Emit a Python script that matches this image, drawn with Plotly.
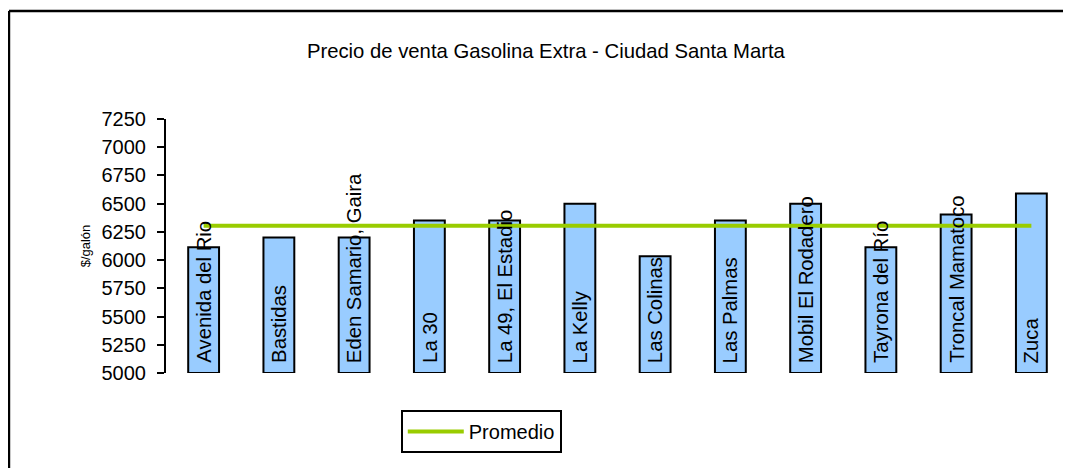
import plotly.graph_objects as go

# Estaciones y precios ($/galón)
estaciones = ['Avenida del Rio', 'Bastidas', 'Eden Samario, Gaira', 'La 30',
              'La 49, El Estadio', 'La Kelly', 'Las Colinas', 'Las Palmas',
              'Mobil El Rodadero', 'Tayrona del Río', 'Troncal Mamatoco', 'Zuca']
precios = [6115, 6200, 6200, 6350, 6350, 6500, 6035, 6350, 6500, 6115, 6405, 6590]
promedio = [6305, 6305, 6305, 6305, 6305, 6305, 6305, 6305, 6305, 6305, 6305, 6305]
y_ticks = [5000, 5250, 5500, 5750, 6000, 6250, 6500, 6750, 7000, 7250]

FONT = 'Arial, Liberation Sans, sans-serif'

fig = go.Figure()

fig.add_trace(go.Bar(
    x=estaciones,
    y=[p - 5000 for p in precios],
    base=5000,
    marker=dict(color='#99CCFF', line=dict(color='black', width=2)),
    showlegend=False,
    hoverinfo='skip'
))

fig.add_trace(go.Scatter(
    x=estaciones,
    y=promedio,
    mode='lines',
    name='Promedio',
    line=dict(color='#99CC00', width=4)
))

# Etiquetas de categoría dentro de las barras (verticales)
for est in estaciones:
    fig.add_annotation(
        x=est, y=5000, text=est, textangle=-90,
        xanchor='center', yanchor='bottom', yshift=8,
        showarrow=False, font=dict(family=FONT, size=20.3, color='black')
    )

# Marco del área del gráfico (solo bordes superior e izquierdo visibles)
fig.add_shape(type='line', xref='paper', yref='paper',
              x0=-0.1739, y0=1.4252, x1=1.02, y1=1.4252,
              line=dict(color='black', width=2.5))
fig.add_shape(type='line', xref='paper', yref='paper',
              x0=-0.1739, y0=1.4252, x1=-0.1739, y1=-0.45,
              line=dict(color='black', width=2.5))

fig.update_layout(
    width=1063, height=460,
    margin=dict(l=158, r=2, t=111, b=95),
    paper_bgcolor='white', plot_bgcolor='white',
    bargap=0.59,
    title=dict(
        text='Precio de venta Gasolina Extra - Ciudad Santa Marta',
        x=0.506, xref='container', xanchor='center',
        y=0.9065, yref='container', yanchor='middle',
        font=dict(family=FONT, size=20.3, color='black')
    ),
    xaxis=dict(showticklabels=False, showline=False, ticks='',
               showgrid=False, zeroline=False),
    yaxis=dict(
        range=[5000, 7250], tickvals=y_ticks,
        showline=True, linecolor='black', linewidth=2,
        ticks='outside', ticklen=7, tickwidth=2, tickcolor='black',
        ticklabelstandoff=7,
        showgrid=False, zeroline=False,
        tickfont=dict(family=FONT, size=20, color='black'),
        title=dict(text='$/galón', standoff=8,
                   font=dict(family=FONT, size=13, color='black'))
    ),
    legend=dict(
        x=0.26, y=-0.146, xanchor='left', yanchor='top',
        bordercolor='black', borderwidth=2, itemwidth=56,
        font=dict(family=FONT, size=20, color='black')
    ),
    showlegend=True
)

fig.write_html("out.html")
